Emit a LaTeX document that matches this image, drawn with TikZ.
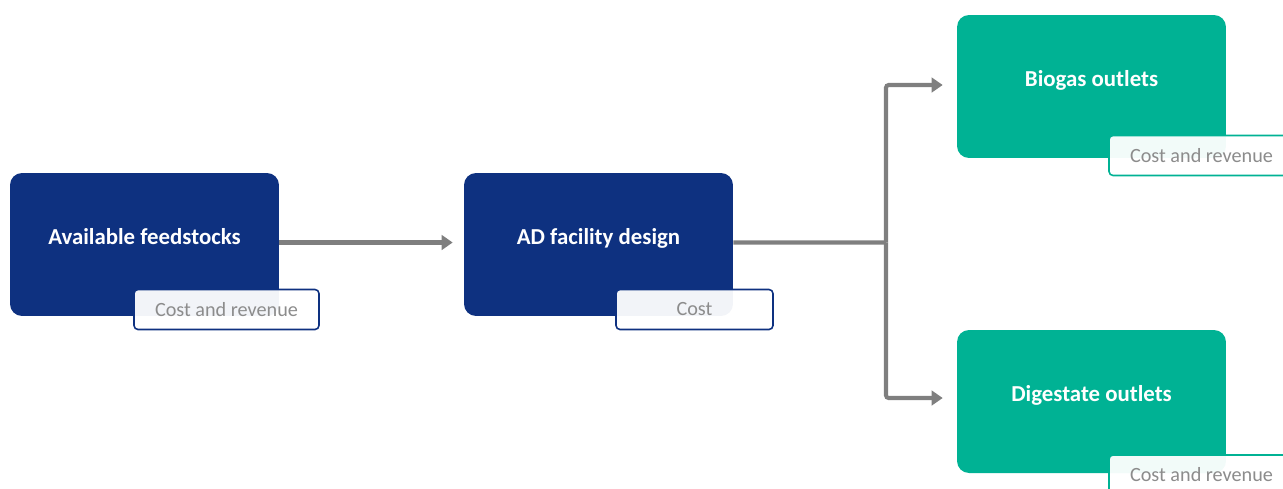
\documentclass[tikz,border=0pt]{standalone}
\usepackage{fontspec}
\setmainfont{Carlito}
\usepackage{tikz}
\usetikzlibrary{arrows.meta, positioning}

\definecolor{navy}{HTML}{0E3180}
\definecolor{teal}{HTML}{00B294}
\definecolor{tagtext}{HTML}{8C8C8C}
\definecolor{arrgray}{HTML}{7F7F7F}

\tikzset{
    stage/.style={draw=none, rounded corners=0.24cm, minimum width=5.38cm, minimum height=2.86cm,
        text height=0.33cm, text depth=0.35cm,
        text=white, font=\fontsize{13}{15}\selectfont\bfseries},
    navystage/.style={stage, fill=navy},
    tealstage/.style={stage, fill=teal},
    tag/.style={rounded corners=0.08cm, line width=0.9pt, fill=white, fill opacity=0.95, text opacity=1,
        minimum height=0.8cm, text=tagtext, font=\fontsize{11.5}{13}\selectfont},
    flow/.style={draw=arrgray, line width=2.3pt, rounded corners=1.5pt,
        -{Triangle[length=0.22cm, width=0.29cm]}}
}

\begin{document}
\begin{tikzpicture}[x=0.02cm, y=-0.02cm]
            \clip (0,0) rectangle (1283,488);
            \node[navystage] at (144.5,244.5) (feed) {Available feedstocks};
            \node[tag, draw=navy, minimum width=3.7cm] at (226.5,309.5) (feedtag) {Cost and revenue};
            \node[navystage] at (598.5,244.5) (design) {AD facility design};
            \node[tag, draw=navy, minimum width=3.14cm] at (694.5,309.5) (designtag) {Cost};
            \node[tealstage] at (1091.5,86.5) (biogas) {Biogas outlets};
            \node[tag, draw=teal, minimum width=3.7cm] at (1201.5,155.5) (biogastag) {Cost and revenue};
            \node[tealstage] at (1091.5,401.5) (digestate) {Digestate outlets};
            \node[tag, draw=teal, minimum width=3.7cm] at (1201.5,475) (digestatetag) {Cost and revenue};
            \coordinate (split) at (886,242.5);
            \draw[flow, shorten >=0.22cm] ([yshift=0.04cm]feed.east) -- ([yshift=0.04cm]design.west);
            \draw[flow, -] ([yshift=0.04cm]design.east) -- (split);
            \draw[flow, shorten >=0.28cm] (split) |- ([yshift=0.03cm]biogas.west);
            \draw[flow, shorten >=0.28cm] (split) |- ([yshift=0.07cm]digestate.west);
        \end{tikzpicture}
\end{document}
